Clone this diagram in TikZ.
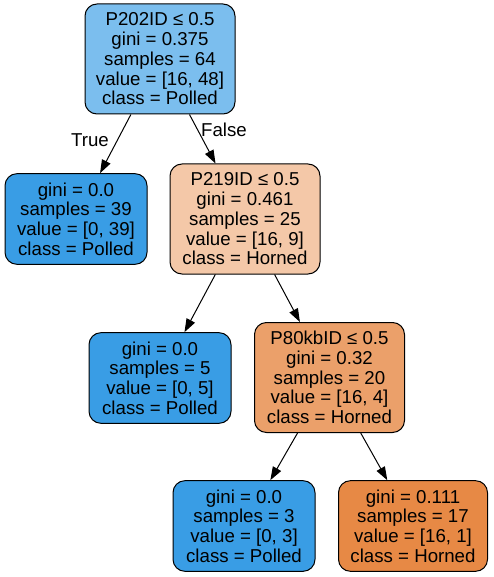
\documentclass[tikz,border=0pt]{standalone}
\usepackage{fontspec}
\setmainfont{Liberation Sans}
\usepackage{tikz}
\usetikzlibrary{arrows.meta}
\definecolor{polledfull}{HTML}{399DE5}
\definecolor{polledmid}{HTML}{7BBEEE}
\definecolor{hornedlow}{HTML}{F4C8A8}
\definecolor{hornedmid}{HTML}{EBA06A}
\definecolor{hornedhigh}{HTML}{E78945}

\begin{document}
\begin{tikzpicture}[x=0.75pt,y=-0.75pt,
        split/.style={draw=black,line width=0.75pt,rounded corners=9pt,
                      minimum width=112.5pt,minimum height=82.5pt,align=center,
                      inner sep=0pt,font=\fontsize{14}{14.8}\selectfont},
        leaf/.style={split,minimum width=106.5pt,minimum height=68pt},
        edge/.style={-{Triangle[length=10pt,width=7pt]},line width=0.75pt},
        lbl/.style={inner sep=0pt,font=\fontsize{14}{14.8}\selectfont}
    ]
        \useasboundingbox (0,0) rectangle (493,577);
        \node[split,fill=polledmid] (root) at (160,59)
            {P202ID ≤ 0.5\\gini = 0.375\\samples = 64\\value = [16, 48]\\class = Polled};
        \node[leaf,fill=polledfull] (l1) at (76,219)
            {gini = 0.0\\samples = 39\\value = [0, 39]\\class = Polled};
        \node[split,fill=hornedlow] (p219) at (245,219)
            {P219ID ≤ 0.5\\gini = 0.461\\samples = 25\\value = [16, 9]\\class = Horned};
        \node[leaf,fill=polledfull] (l2) at (160,378)
            {gini = 0.0\\samples = 5\\value = [0, 5]\\class = Polled};
        \node[split,fill=hornedmid] (p80) at (329.5,377.5)
            {P80kbID ≤ 0.5\\gini = 0.32\\samples = 20\\value = [16, 4]\\class = Horned};
        \node[leaf,fill=polledfull] (l3) at (244,526)
            {gini = 0.0\\samples = 3\\value = [0, 3]\\class = Polled};
        \node[leaf,fill=hornedhigh,minimum width=111.75pt] (l4) at (413,526)
            {gini = 0.111\\samples = 17\\value = [16, 1]\\class = Horned};
        \node[lbl] (t) at (90,140) {True};
        \node[lbl] (f) at (224,130) {False};
        \draw[edge] (root) -- (l1);
        \draw[edge] (root) -- (p219);
        \draw[edge] (p219) -- (l2);
        \draw[edge] (p219) -- (p80);
        \draw[edge] (p80) -- (l3);
        \draw[edge] (p80) -- (l4);
    \end{tikzpicture}
\end{document}
